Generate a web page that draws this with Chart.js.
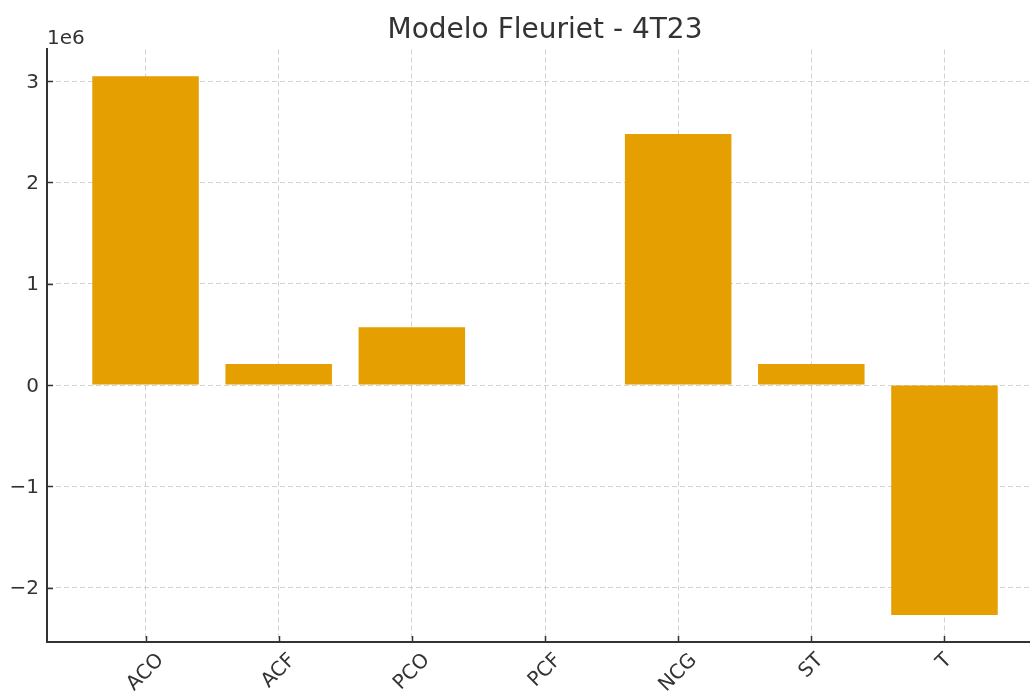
<!DOCTYPE html>
<html>
<head>
<meta charset="utf-8">
<script src="https://cdn.jsdelivr.net/npm/chart.js@4.4.1/dist/chart.umd.min.js"></script>
<style>
  html, body { margin: 0; padding: 0; background: #fff; overflow: hidden; }
  #wrap { width: 1030px; height: 691px; overflow: hidden; position: relative; }
  canvas { display: block; }
</style>
</head>
<body>
<div id="wrap"><canvas id="c" width="1043" height="691"></canvas></div>
<script>
const chartTitle = 'Modelo Fleuriet - 4T23';
const categories = ['ACO', 'ACF', 'PCO', 'PCF', 'NCG', 'ST', 'T'];
const values = [3046000, 207000, 569000, 0, 2477000, 207000, -2270000];
const yTickValues = [-2000000, -1000000, 0, 1000000, 2000000, 3000000];
const offsetLabel = '1e6';

const TEXT = '#333333';
const FONT = 'DejaVu Sans';

function fmtTick(v) {
  const n = Math.round(v / 1e6);
  return n < 0 ? '\u2212' + Math.abs(n) : String(n);
}

const extrasPlugin = {
  id: 'extras',
  afterDraw(chart) {
    const ctx = chart.ctx;
    const xs = chart.scales.x, ys = chart.scales.y;
    const area = chart.chartArea;
    ctx.save();
    // inward tick marks
    ctx.strokeStyle = TEXT;
    ctx.lineWidth = 1.5;
    ctx.beginPath();
    xs.ticks.forEach(t => {
      const px = Math.round(xs.getPixelForValue(t.value)) + 0.5;
      ctx.moveTo(px, area.bottom);
      ctx.lineTo(px, area.bottom - 6);
    });
    ys.ticks.forEach(t => {
      const py = Math.round(ys.getPixelForValue(t.value)) + 0.5;
      ctx.moveTo(area.left, py);
      ctx.lineTo(area.left + 6, py);
    });
    ctx.stroke();
    // offset text
    ctx.fillStyle = TEXT;
    ctx.font = '20px "' + FONT + '"';
    ctx.textAlign = 'left';
    ctx.textBaseline = 'alphabetic';
    ctx.fillText(offsetLabel, area.left, area.top - 5);
    // rotated x labels, centred on tick
    const h = 23.3;
    categories.forEach((lab, i) => {
      const px = xs.getPixelForValue(i);
      const w = ctx.measureText(lab).width;
      const cy = area.bottom + 7 + (w + h) / (2 * Math.SQRT2);
      ctx.save();
      ctx.translate(px, cy);
      ctx.rotate(-Math.PI / 4);
      ctx.textAlign = 'center';
      ctx.textBaseline = 'middle';
      ctx.fillText(lab, 0, 0);
      ctx.restore();
    });
    ctx.restore();
  }
};

new Chart(document.getElementById('c'), {
  type: 'bar',
  data: {
    datasets: [{
      data: categories.map((c, i) => ({ x: i, y: values[i] })),
      backgroundColor: '#E69F00',
      borderWidth: 0,
      barPercentage: 0.8,
      categoryPercentage: 1.0
    }]
  },
  options: {
    responsive: false,
    animation: false,
    devicePixelRatio: 1,
    layout: { padding: 0 },
    plugins: {
      legend: { display: false },
      tooltip: { enabled: false },
      title: {
        display: true,
        text: chartTitle,
        fullSize: false,
        color: TEXT,
        font: { family: FONT, size: 28, weight: 'normal', lineHeight: 1.2 },
        padding: { top: 14, bottom: 1.8 }
      }
    },
    scales: {
      x: {
        type: 'linear',
        min: -0.74,
        max: 6.74,
        offset: false,
        z: 1,
        afterBuildTicks(scale) { scale.ticks = categories.map((c, i) => ({ value: i })); },
        afterFit(scale) { scale.height = 49; },
        ticks: { display: false },
        grid: { offset: false, color: 'rgba(200,200,200,0.8)', lineWidth: 1, drawTicks: false },
        border: { display: true, color: TEXT, width: 2, dash: [5, 3] }
      },
      y: {
        min: -2536000,
        max: 3312000,
        z: 1,
        afterBuildTicks(scale) { scale.ticks = yTickValues.map(v => ({ value: v })); },
        afterFit(scale) { scale.width = 47; },
        ticks: {
          color: TEXT,
          padding: 8,
          labelOffset: 1.5,
          font: { family: FONT, size: 20 },
          callback: (v) => fmtTick(v)
        },
        grid: { color: 'rgba(200,200,200,0.8)', lineWidth: 1, drawTicks: false },
        border: { display: true, color: TEXT, width: 2, dash: [5, 3] }
      }
    }
  },
  plugins: [extrasPlugin]
});
</script>
</body>
</html>
